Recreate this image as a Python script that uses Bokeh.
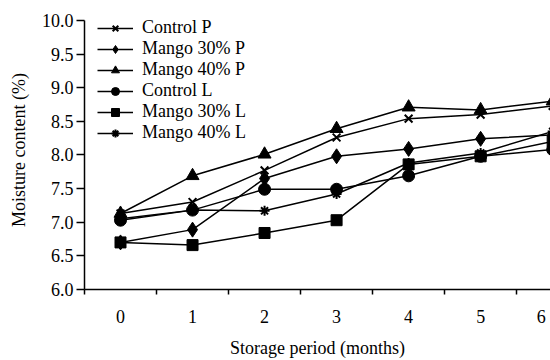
from bokeh.plotting import figure
from bokeh.models import FixedTicker, Legend, LegendItem, Range1d
from bokeh.embed import file_html
from bokeh.resources import INLINE

months = [0, 1, 2, 3, 4, 5, 6]
month_labels = ["0", "1", "2", "3", "4", "5", "6"]
y_ticks = [6.0, 6.5, 7.0, 7.5, 8.0, 8.5, 9.0, 9.5, 10.0]

control_p = [7.13, 7.30, 7.77, 8.26, 8.54, 8.60, 8.73]
mango30_p = [6.70, 6.89, 7.65, 7.98, 8.09, 8.24, 8.30]
mango40_p = [7.13, 7.69, 8.01, 8.39, 8.71, 8.67, 8.80]
control_l = [7.03, 7.18, 7.49, 7.49, 7.69, 7.98, 8.08]
mango30_l = [6.70, 6.66, 6.84, 7.03, 7.86, 7.98, 8.20]
mango40_l = [7.05, 7.18, 7.17, 7.42, 7.88, 8.03, 8.35]

series = [
    ("Control P", control_p, "x", 11),
    ("Mango 30% P", mango30_p, "diamond", 15),
    ("Mango 40% P", mango40_p, "triangle", 13),
    ("Control L", control_l, "circle", 12),
    ("Mango 30% L", mango30_l, "square", 11),
    ("Mango 40% L", mango40_l, "asterisk", 10),
]

FONT = "'Liberation Serif', 'DejaVu Serif', serif"

p = figure(width=550, height=360, output_backend="svg", toolbar_location=None,
           x_range=Range1d(-0.5, 5.97), y_range=Range1d(6.0, 10.1476),
           min_border_left=84, min_border_right=0, min_border_top=10,
           min_border_bottom=69)
p.outline_line_color = None
p.xgrid.grid_line_color = None
p.ygrid.grid_line_color = None
p.background_fill_color = "white"
p.border_fill_color = "white"

items = []
for name, vals, marker, size in series:
    r1 = p.line(months, vals, line_color="black", line_width=1.5)
    lw = 2 if marker in ("x", "asterisk") else 1
    r2 = p.scatter(months, vals, marker=marker, size=size, fill_color="black",
                   line_color="black", line_width=lw)
    items.append(LegendItem(label=name, renderers=[r1, r2]))

legend = Legend(items=items, location=(13, 146), padding=0, margin=0,
                spacing=0, glyph_width=36, glyph_height=20, label_height=20,
                label_standoff=9, label_text_font=FONT,
                label_text_font_style="normal",
                label_text_font_size="18px", label_text_color="black",
                border_line_color=None, background_fill_alpha=0)
p.add_layout(legend, "center")

# x axis: labels at months, ticks between months
tick_pos = [m for m in months[:-1]] + [5.84]
p.xaxis.ticker = FixedTicker(ticks=tick_pos,
                             minor_ticks=[m - 0.5 for m in months])
p.xaxis.major_label_overrides = {t: lab for t, lab in zip(tick_pos, month_labels)}
p.xaxis.major_tick_out = 0
p.xaxis.major_tick_in = 0
p.xaxis.minor_tick_out = 5
p.xaxis.minor_tick_in = 0
p.xaxis.minor_tick_line_color = "black"
p.xaxis.minor_tick_line_width = 1.5
p.xaxis.major_label_standoff = 15
p.xaxis.axis_label = "Storage period (months)"
p.xaxis.axis_label_standoff = 12

p.yaxis.ticker = FixedTicker(ticks=y_ticks)
p.yaxis.bounds = (6.0, 10.0)
p.yaxis.major_label_overrides = {t: f"{t:.1f}" for t in y_ticks}
p.yaxis.major_tick_out = 8
p.yaxis.major_tick_in = 0
p.yaxis.minor_tick_out = 0
p.yaxis.minor_tick_in = 0
p.yaxis.major_label_standoff = 3
p.yaxis.axis_label = "Moisture content (%)"
p.yaxis.axis_label_standoff = 10

for ax in (p.xaxis, p.yaxis):
    ax.axis_line_color = "black"
    ax.axis_line_width = 1.5
    ax.major_tick_line_color = "black"
    ax.major_tick_line_width = 1.5
    ax.major_label_text_font = FONT
    ax.major_label_text_font_style = "normal"
    ax.major_label_text_font_size = "18px"
    ax.major_label_text_color = "black"
    ax.axis_label_text_font = FONT
    ax.axis_label_text_font_size = "18px"
    ax.axis_label_text_font_style = "normal"
    ax.axis_label_text_color = "black"

open("out.html", "w").write(file_html(p, INLINE))
